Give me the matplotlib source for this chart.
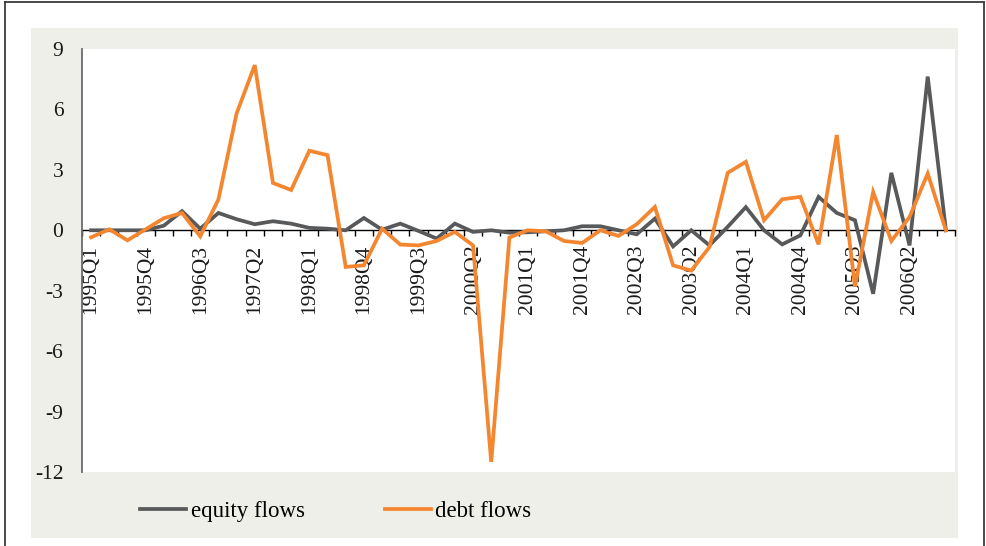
import numpy as np
import matplotlib
matplotlib.use("Agg")
import matplotlib.pyplot as plt
from matplotlib.lines import Line2D
from matplotlib.patches import Rectangle

plt.rcParams["font.family"] = ["Liberation Serif", "DejaVu Serif"]

# quarterly data, 1995Q1 .. 2006Q4
quarters = [f"{y}Q{q}" for y in range(1995, 2007) for q in range(1, 5)]

equity = [0.0, 0.0, 0.0, 0.0, 0.23, 0.95, 0.08, 0.86, 0.55, 0.3,
          0.45, 0.33, 0.12, 0.08, 0.0, 0.61, 0.03, 0.33, -0.03, -0.41,
          0.33, -0.08, 0.0, -0.12, -0.1, -0.05, 0.0, 0.2, 0.2, 0.0,
          -0.2, 0.58, -0.8, 0.0, -0.75, 0.17, 1.15, 0.0, -0.7, -0.25,
          1.66, 0.86, 0.5, -3.15, 2.85, -0.75, 7.63, 0.0]

debt = [-0.35, 0.05, -0.5, 0.05, 0.6, 0.86, -0.3, 1.53, 5.8, 8.2,
        2.35, 2.0, 3.95, 3.73, -1.82, -1.74, 0.08, -0.71, -0.75, -0.53,
        -0.08, -0.75, -11.5, -0.36, 0.0, -0.05, -0.53, -0.63, 0.0, -0.28,
        0.3, 1.16, -1.74, -2.0, -0.83, 2.85, 3.4, 0.5, 1.54, 1.66,
        -0.7, 4.73, -2.8, 1.9, -0.53, 0.66, 2.82, 0.0]

yticks = [9, 6, 3, 0, -3, -6, -9, -12]

GRAY = "#58595b"
ORANGE = "#f4862f"
PANEL = "#efefea"

W, H = 986, 546
fig = plt.figure(figsize=(W / 100, H / 100), dpi=100)

# light panel behind the chart and the outer frame
fig.add_artist(Rectangle((31 / W, 1 - 538 / H), (958 - 31) / W, (538 - 28) / H,
                         transform=fig.transFigure, facecolor=PANEL,
                         edgecolor="none", zorder=0))
frame_kw = dict(transform=fig.transFigure, color="#3c3c3c", lw=1.3, zorder=1)
fig.add_artist(Line2D([5 / W, 984 / W], [1 - 2 / H, 1 - 2 / H], **frame_kw))
fig.add_artist(Line2D([5 / W, 5 / W], [0, 1 - 2 / H], **frame_kw))
fig.add_artist(Line2D([984 / W, 984 / W], [0, 1 - 2 / H], **frame_kw))

ax = fig.add_axes([82 / W, 1 - 472 / H, (955 - 82) / W, (472 - 49) / H])
ax.set_facecolor("white")

x = np.arange(len(quarters))
ax.plot(x, equity, color=GRAY, lw=2.7, solid_joinstyle="miter", label="equity flows", zorder=3)
ax.plot(x, debt, color=ORANGE, lw=2.7, solid_joinstyle="miter", label="debt flows", zorder=4)

ax.set_xlim(-0.5, len(quarters) - 0.5)
ax.set_ylim(-12, 9)

ax.tick_params(axis="y", length=0, pad=13.5, labelsize=15.5, labelcolor="#1a1a1a")
ax.tick_params(axis="x", which="major", length=0, pad=10.5, labelsize=15.5,
               labelrotation=90, labelcolor="#1a1a1a")
ax.tick_params(axis="x", which="minor", length=4.5, width=1, direction="out", color="black")

ax.set_yticks(yticks)
ax.set_yticklabels([str(v) for v in yticks])
ax.set_xticks(x[::3])
ax.set_xticklabels(quarters[::3])
ax.set_xticks(np.arange(-0.5, len(quarters)), minor=True)

ax.spines["top"].set_visible(False)
ax.spines["right"].set_visible(False)
ax.spines["bottom"].set_position(("data", 0))
ax.spines["bottom"].set_color("black")
ax.spines["bottom"].set_linewidth(1)
ax.spines["bottom"].set_zorder(2)
ax.spines["left"].set_color("#6b6b6b")
ax.spines["left"].set_linewidth(1.3)

fig.legend(loc="center", bbox_to_anchor=(336 / W, 1 - 511 / H), ncol=2,
           frameon=False, fontsize=16.5, handlelength=2.0, handletextpad=0.2,
           columnspacing=3.5)

fig.savefig("out.png", dpi=100)
